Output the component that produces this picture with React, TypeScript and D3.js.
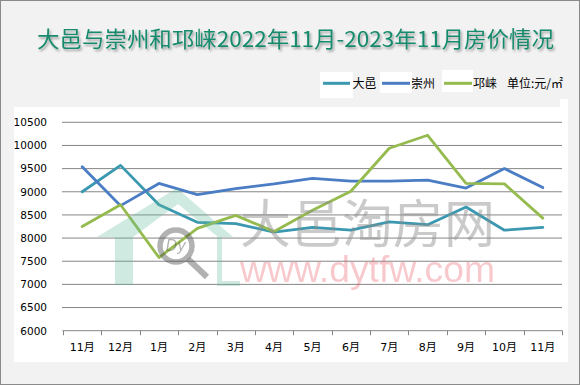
import React, { useRef, useEffect } from 'react';
import * as d3 from 'd3';

const MONTHS = ['11月', '12月', '1月', '2月', '3月', '4月', '5月', '6月', '7月', '8月', '9月', '10月', '11月'];
const DAYI = [9000, 9570, 8720, 8340, 8310, 8130, 8230, 8170, 8350, 8290, 8670, 8170, 8230];
const CHONGZHOU = [9540, 8700, 9180, 8940, 9070, 9170, 9290, 9230, 9230, 9250, 9080, 9500, 9090];
const QIONGLAI = [8250, 8720, 7580, 8210, 8490, 8140, 8600, 9010, 9940, 10220, 9180, 9170, 8430];
const SERIES_NAMES = ['大邑', '崇州', '邛崃'];
const Y_TICKS = d3.range(6000, 10501, 500);

const COLORS = ['#3a98b0', '#4a7dc4', '#95bb4f'];
const W = 580;
const H = 385;
const NUM_FONT = 'DejaVu Sans, Noto Sans CJK SC, sans-serif';
const CJK_FONT = 'Noto Sans CJK SC, sans-serif';

export default function App() {
    const svgRef = useRef<SVGSVGElement>(null);

    useEffect(() => {
        const svg = d3.select(svgRef.current);
        svg.selectAll('*').remove();

        const series = [DAYI, CHONGZHOU, QIONGLAI].map((values, i) => ({ name: SERIES_NAMES[i], values }));

        const x = d3.scaleBand<number>()
            .domain(d3.range(MONTHS.length))
            .range([63, 562]);
        const y = d3.scaleLinear()
            .domain([6000, 10500])
            .range([330.7, 122.3]);

        // background + frame
        svg.append('rect')
            .attr('x', 0.5).attr('y', 0.5)
            .attr('width', W - 1).attr('height', H - 1)
            .attr('fill', '#f2f2f2')
            .attr('stroke', '#8a8a8a');

        // title with shadow
        const defs = svg.append('defs');
        defs.append('filter')
            .attr('id', 'titleShadow')
            .attr('x', '-5%').attr('y', '-30%').attr('width', '110%').attr('height', '160%')
            .append('feDropShadow')
            .attr('dx', 1.5).attr('dy', 2)
            .attr('stdDeviation', 1.2)
            .attr('flood-color', '#000')
            .attr('flood-opacity', 0.35);

        svg.append('text')
            .attr('x', 37)
            .attr('y', 47)
            .attr('fill', '#178a6c')
            .attr('font-size', 21.5)
            .attr('font-family', CJK_FONT)
            .attr('textLength', 517)
            .attr('lengthAdjust', 'spacingAndGlyphs')
            .attr('filter', 'url(#titleShadow)')
            .text('大邑与崇州和邛崃2022年11月-2023年11月房价情况');

        // plot area
        svg.append('rect')
            .attr('x', 14).attr('y', 107)
            .attr('width', 546).attr('height', 255)
            .attr('fill', '#fff');
        svg.append('rect')
            .attr('x', 560).attr('y', 99)
            .attr('width', 8).attr('height', 263)
            .attr('fill', '#fff');

        // legend
        const legendItems = [
            { x1: 323, x2: 350, tx: 352.5, box: [320, 72, 33, 26] },
            { x1: 382, x2: 410, tx: 411, box: [380, 72, 32, 21] },
            { x1: 444, x2: 472, tx: 473, box: [442, 70, 31, 22] },
        ];
        legendItems.forEach((it, i) => {
            svg.append('rect')
                .attr('x', it.box[0]).attr('y', it.box[1])
                .attr('width', it.box[2]).attr('height', it.box[3])
                .attr('fill', '#fff');
            svg.append('line')
                .attr('x1', it.x1).attr('x2', it.x2)
                .attr('y1', 83.3).attr('y2', 83.3)
                .attr('stroke', COLORS[i])
                .attr('stroke-width', 3);
            svg.append('text')
                .attr('x', it.tx).attr('y', 87.8)
                .attr('font-size', 12)
                .attr('font-family', CJK_FONT)
                .attr('fill', '#000')
                .text(SERIES_NAMES[i]);
        });
        svg.append('text')
            .attr('x', 507).attr('y', 87.8)
            .attr('font-size', 12)
            .attr('font-family', CJK_FONT)
            .attr('fill', '#000')
            .text('单位:元/㎡');

        // gridlines
        svg.append('g')
            .selectAll('line')
            .data(Y_TICKS.slice(1))
            .join('line')
            .attr('x1', 62).attr('x2', 562)
            .attr('y1', d => y(d)).attr('y2', d => y(d))
            .attr('stroke', '#868686')
            .attr('stroke-width', 1);

        // y axis labels
        svg.append('g')
            .attr('transform', 'translate(47,0)')
            .call(d3.axisLeft(y).tickValues(Y_TICKS).tickSize(0).tickPadding(0).tickFormat(d => String(d)))
            .call(g => g.select('.domain').remove())
            .call(g => g.selectAll('.tick text')
                .attr('font-size', 10.5)
                .attr('font-family', NUM_FONT)
                .attr('fill', '#000'));

        // x axis line + boundary ticks
        const bounds = MONTHS.map((_, i) => x(i) as number).concat([x.range()[1]]);
        svg.append('line')
            .attr('x1', 62.5).attr('x2', 562.5)
            .attr('y1', y(6000)).attr('y2', y(6000))
            .attr('stroke', '#868686');
        svg.append('g')
            .selectAll('line')
            .data(bounds)
            .join('line')
            .attr('x1', d => Math.round(d) + 0.5).attr('x2', d => Math.round(d) + 0.5)
            .attr('y1', y(6000)).attr('y2', y(6000) + 4.5)
            .attr('stroke', '#868686');

        svg.append('g')
            .attr('transform', `translate(0,${y(6000)})`)
            .call(d3.axisBottom(x).tickSize(0).tickPadding(13).tickFormat(i => MONTHS[i]))
            .call(g => g.select('.domain').remove())
            .call(g => g.selectAll('.tick text')
                .attr('font-size', 11)
                .attr('font-family', NUM_FONT)
                .attr('fill', '#000'));

        // series lines
        const line = d3.line<number>()
            .x((_, i) => (x(i) as number) + x.bandwidth() / 2)
            .y(d => y(d));
        series.forEach((s, i) => {
            svg.append('path')
                .datum(s.values)
                .attr('fill', 'none')
                .attr('stroke', COLORS[i])
                .attr('stroke-width', 2.8)
                .attr('stroke-linejoin', 'round')
                .attr('stroke-linecap', 'round')
                .attr('d', line);
        });

        // watermark
        const wm = svg.append('g').attr('pointer-events', 'none');
        wm.append('path')
            .attr('d', 'M97,237 L177,188 L233,237 L218,237 L178,204 L133,237 L133,285 L115,285 L115,237 Z')
            .attr('fill', '#5fb898')
            .attr('opacity', 0.3);
        wm.append('path')
            .attr('d', 'M217,237 L222,237 L222,281 L240,281 L240,286 L217,286 Z')
            .attr('fill', '#5fb898')
            .attr('opacity', 0.3);
        wm.append('circle')
            .attr('cx', 176).attr('cy', 246)
            .attr('r', 16)
            .attr('fill', 'none')
            .attr('stroke', '#555')
            .attr('stroke-width', 5.5)
            .attr('opacity', 0.45);
        wm.append('line')
            .attr('x1', 188).attr('y1', 259)
            .attr('x2', 207).attr('y2', 277)
            .attr('stroke', '#555')
            .attr('stroke-width', 6)
            .attr('opacity', 0.45);
        wm.append('text')
            .attr('x', 176).attr('y', 251)
            .attr('text-anchor', 'middle')
            .attr('font-size', 15)
            .attr('font-style', 'italic')
            .attr('font-family', 'DejaVu Sans, sans-serif')
            .attr('fill', '#555')
            .attr('opacity', 0.45)
            .text('Dy');
        wm.append('text')
            .attr('x', 240).attr('y', 243)
            .attr('font-size', 52)
            .attr('font-family', CJK_FONT)
            .attr('textLength', 255)
            .attr('lengthAdjust', 'spacingAndGlyphs')
            .attr('fill', '#8c8c8c')
            .attr('opacity', 0.45)
            .text('大邑淘房网');
        wm.append('text')
            .attr('x', 240).attr('y', 282)
            .attr('font-size', 37)
            .attr('font-family', 'Liberation Sans, Arial, sans-serif')
            .attr('textLength', 255)
            .attr('lengthAdjust', 'spacingAndGlyphs')
            .attr('fill', '#e8505a')
            .attr('opacity', 0.3)
            .text('www.dytfw.com');
    }, []);

    return (
        <svg
            ref={svgRef}
            width={W}
            height={H}
            viewBox={`0 0 ${W} ${H}`}
            style={{ position: 'absolute', left: 0, top: 0, display: 'block' }}
        />
    );
}
